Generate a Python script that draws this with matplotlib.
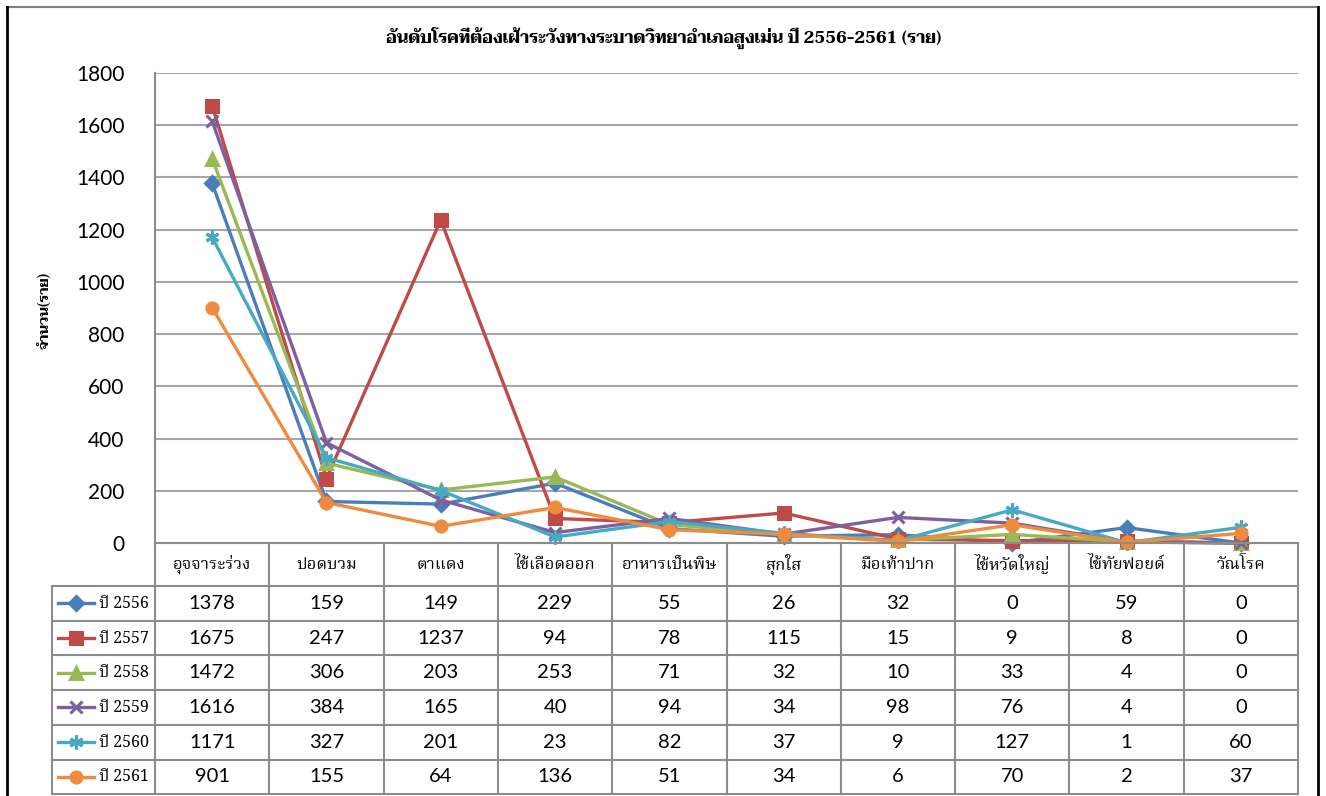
import matplotlib
matplotlib.use("Agg")
import matplotlib.pyplot as plt
from matplotlib.lines import Line2D

# data
categories = ["อุจจาระร่วง", "ปอดบวม", "ตาแดง", "ไข้เลือดออก", "อาหารเป็นพิษ",
              "สุกใส", "มือเท้าปาก", "ไข้หวัดใหญ่", "ไข้ทัยฟอยด์", "วัณโรค"]
years = ["ปี 2556", "ปี 2557", "ปี 2558", "ปี 2559", "ปี 2560", "ปี 2561"]
y2556 = [1378, 159, 149, 229, 55, 26, 32, 0, 59, 0]
y2557 = [1675, 247, 1237, 94, 78, 115, 15, 9, 8, 0]
y2558 = [1472, 306, 203, 253, 71, 32, 10, 33, 4, 0]
y2559 = [1616, 384, 165, 40, 94, 34, 98, 76, 4, 0]
y2560 = [1171, 327, 201, 23, 82, 37, 9, 127, 1, 60]
y2561 = [901, 155, 64, 136, 51, 34, 6, 70, 2, 37]
series = [y2556, y2557, y2558, y2559, y2560, y2561]

colors = ["#4A7EBB", "#BE4B48", "#98B954", "#7D60A0", "#46AAC5", "#F08A3C"]
markers = ["D", "s", "^", "x", (6, 2, 0), "o"]
msizes = [7, 9, 9, 9, 10, 8]

thai_serif = ["Noto Serif Thai", "Liberation Serif"]
thai_bold = ["Taviraj", "Liberation Serif"]
num_font = ["Lato", "DejaVu Sans"]

W, H = 1326, 796
fig = plt.figure(figsize=(W / 100, H / 100), dpi=100)

def box(x0, y0, x1, y1):
    return [x0 / W, 1 - y1 / H, (x1 - x0) / W, (y1 - y0) / H]

# main chart
ax = fig.add_axes(box(155, 73, 1298, 543))
x = list(range(len(categories)))
for vals, c, m, ms in zip(series, colors, markers, msizes):
    ax.plot(x, vals, color=c, lw=2.4, marker=m, ms=ms, mfc=c, mec=c, mew=2.2,
            solid_joinstyle="round", clip_on=False, zorder=3)
ax.set_xlim(-0.5, len(categories) - 0.5)
ax.set_ylim(0, 1800)
ax.set_yticks(range(0, 1801, 200))
ax.set_xticks([])
for t in ax.get_yticklabels():
    t.set_fontfamily(num_font)
    t.set_fontsize(15)
ax.tick_params(axis="y", length=0, pad=22)
ax.grid(axis="y", color="#a6a6a6", lw=1.5)
ax.set_axisbelow(True)
for s in ["top", "right", "bottom"]:
    ax.spines[s].set_visible(False)
ax.spines["left"].set_color("#8c8c8c")
ax.spines["left"].set_linewidth(1.5)

fig.text(45 / W, 1 - 310 / H, "จำนวน(ราย)", rotation=90, ha="center", va="center",
         fontsize=10, fontweight="bold", family=thai_bold)
fig.text(664 / W, 1 - 38 / H, "อันดับโรคที่ต้องเฝ้าระวังทางระบาดวิทยาอำเภอสูงเม่น ปี 2556-2561 (ราย)",
         ha="center", va="center", fontsize=12, fontweight="bold", family=thai_bold)

# data table under the chart
leg_w = 103 / 114.3
tab = fig.add_axes(box(52, 543, 1298, 794))
tab.set_xlim(-0.5 - leg_w, len(categories) - 0.5)
tab.set_ylim(251, 0)
tab.axis("off")
rows = [0, 43] + [43 + 34.7 * (i + 1) for i in range(len(years))]
lc = "#8c8c8c"
for i, yb in enumerate(rows):
    x0 = -0.5 if i == 0 else -0.5 - leg_w
    tab.plot([x0, len(categories) - 0.5], [yb, yb], color=lc, lw=1.5, clip_on=False)
for k in range(len(categories) + 1):
    tab.plot([k - 0.5, k - 0.5], [0, rows[-1]], color=lc, lw=1.5, clip_on=False)
tab.plot([-0.5 - leg_w] * 2, [43, rows[-1]], color=lc, lw=1.5, clip_on=False)

for k, cat in enumerate(categories):
    tab.text(k, 21.5, cat, ha="center", va="center", fontsize=12, family=thai_serif)
for i, (vals, yr) in enumerate(zip(series, years)):
    yc = (rows[i + 1] + rows[i + 2]) / 2
    for k, v in enumerate(vals):
        tab.text(k, yc, str(v), ha="center", va="center", fontsize=14.5, family=num_font)
    lx0 = -0.5 - leg_w + 0.05
    tab.add_line(Line2D([lx0, lx0 + 0.32], [yc, yc], color=colors[i], lw=2.4))
    tab.add_line(Line2D([lx0 + 0.16], [yc], color=colors[i], marker=markers[i],
                        ms=msizes[i], mfc=colors[i], mec=colors[i], mew=2.2, lw=0))
    tab.text(lx0 + 0.36, yc, yr, ha="left", va="center", fontsize=11.5, family=thai_serif)

# outer frame
fig.add_artist(Line2D([7 / W, 1318 / W], [1 - 7 / H] * 2, color="#808080", lw=1.5))
fig.add_artist(Line2D([7 / W] * 2, [0, 1 - 7 / H], color="black", lw=2))
fig.add_artist(Line2D([1318 / W] * 2, [0, 1 - 7 / H], color="black", lw=2))

fig.savefig("out.png", dpi=100)
